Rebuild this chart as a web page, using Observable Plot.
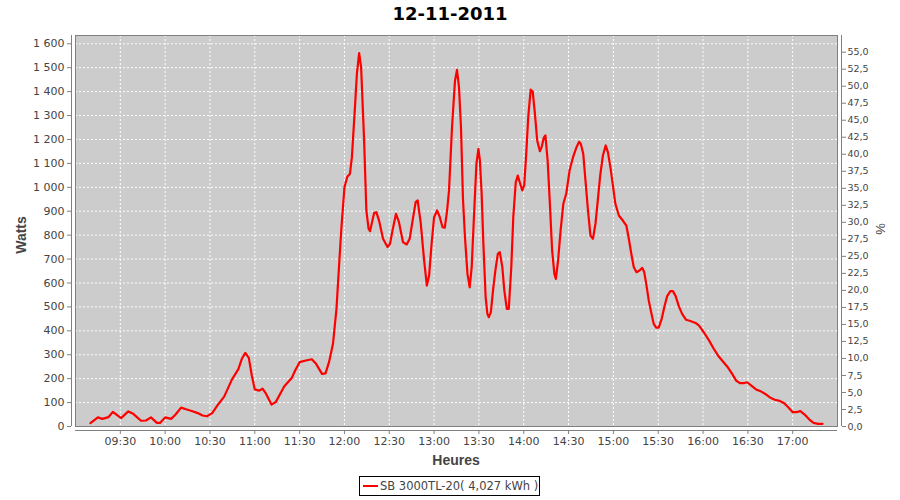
<!DOCTYPE html>
<html><head><meta charset="utf-8">
<script src="https://cdn.jsdelivr.net/npm/d3@7"></script>
<script src="https://cdn.jsdelivr.net/npm/@observablehq/plot@0.6"></script>
<style>
body{margin:0;background:#fff;}
#wrap{position:relative;width:900px;height:500px;overflow:hidden;font-family:"DejaVu Sans",sans-serif;background:#fff;}
#chart{position:absolute;left:0;top:0;}
#title{position:absolute;left:0;width:900px;top:3px;text-align:center;font:bold 18px "DejaVu Sans";color:#000;}
.alab{position:absolute;font:bold 14px "Liberation Sans";color:#444;white-space:nowrap;}
#legend{position:absolute;left:359px;top:476px;width:179px;height:18px;border:1px solid #000;font:11.5px "DejaVu Sans";color:#444;white-space:nowrap;}
#legend .sw{position:absolute;left:3px;top:8px;width:15px;height:2px;background:#ff0000;}
#legend .tx{position:absolute;left:20px;top:2px;}
</style></head>
<body>
<div id="wrap">
  <div id="chart"></div>
  <div id="title"></div>
  <div class="alab" id="ylab" style="left:21px;top:235px;transform:translate(-50%,-50%) rotate(-90deg);"></div>
  <div class="alab" id="y2lab" style="left:880px;top:229px;transform:translate(-50%,-50%) rotate(-90deg);font-weight:normal;font-size:13px;"></div>
  <div class="alab" id="xlab" style="left:456px;top:460px;transform:translate(-50%,-50%);"></div>
  <div id="legend"><div class="sw"></div><div class="tx"></div></div>
</div>
<script>
const chartTitle = "12-11-2011";
const yLabel = "Watts";
const y2Label = "%";
const xLabel = "Heures";
const seriesName = "SB 3000TL-20( 4,027 kWh )";

const times = ["09:10:00","09:15:00","09:18:00","09:22:00","09:25:00","09:30:30","09:35:20","09:38:40","09:43:50","09:47:10","09:50:30","09:54:30","09:56:30","10:00:00","10:04:00","10:06:50","10:10:40","10:14:00","10:18:20","10:21:50","10:25:00","10:28:00","10:31:30","10:35:00","10:39:30","10:44:40","10:49:00","10:51:20","10:53:40","10:56:00","10:58:00","11:00:00","11:03:00","11:05:10","11:07:30","11:11:10","11:14:00","11:19:40","11:24:50","11:27:00","11:30:00","11:34:10","11:38:10","11:41:00","11:45:00","11:47:20","11:49:40","11:52:20","11:54:40","11:56:20","11:58:00","12:00:00","12:02:00","12:03:40","12:05:00","12:07:10","12:08:20","12:09:50","12:11:10","12:13:10","12:14:40","12:16:10","12:17:10","12:19:50","12:21:20","12:23:10","12:25:50","12:28:50","12:30:30","12:32:10","12:34:30","12:36:30","12:39:10","12:41:40","12:43:40","12:46:00","12:47:40","12:49:00","12:51:00","12:53:20","12:55:10","12:56:40","12:58:20","13:00:00","13:02:00","13:03:50","13:05:40","13:07:10","13:08:40","13:10:00","13:12:00","13:14:00","13:15:20","13:16:40","13:18:00","13:19:20","13:20:40","13:22:20","13:23:50","13:25:10","13:26:40","13:28:20","13:29:40","13:30:40","13:31:50","13:33:00","13:34:30","13:35:40","13:36:40","13:38:00","13:39:40","13:41:00","13:42:40","13:44:00","13:45:40","13:47:00","13:48:40","13:50:00","13:51:40","13:53:00","13:54:40","13:56:00","13:57:20","13:59:00","14:00:20","14:01:40","14:03:00","14:04:40","14:06:00","14:07:30","14:09:00","14:10:50","14:12:00","14:13:30","14:14:30","14:16:00","14:17:30","14:19:00","14:20:30","14:21:30","14:23:00","14:24:40","14:26:30","14:28:30","14:30:40","14:33:00","14:35:10","14:37:00","14:38:10","14:39:50","14:41:20","14:43:00","14:44:40","14:46:20","14:48:00","14:49:40","14:51:10","14:53:00","14:54:50","14:56:20","14:58:00","14:59:40","15:01:20","15:03:40","15:06:20","15:08:40","15:10:20","15:12:00","15:13:40","15:15:30","15:17:30","15:19:20","15:20:40","15:22:10","15:23:40","15:25:30","15:27:00","15:28:40","15:30:20","15:32:20","15:34:20","15:36:00","15:38:10","15:39:50","15:41:40","15:43:50","15:46:00","15:48:40","15:51:30","15:55:00","15:57:20","16:00:30","16:04:00","16:07:10","16:10:00","16:13:10","16:16:10","16:19:30","16:22:10","16:24:40","16:27:20","16:29:30","16:32:20","16:35:30","16:39:00","16:42:10","16:45:10","16:48:00","16:51:20","16:54:20","16:57:20","17:00:00","17:02:30","17:05:10","17:08:00","17:11:10","17:14:00","17:17:00","17:20:00"];
const watts = [14,38,32,39,61,35,63,53,24,25,38,15,15,38,32,49,79,72,64,56,46,43,56,88,125,196,240,283,308,287,213,155,150,158,137,92,102,167,204,234,269,276,281,262,220,222,269,346,492,666,833,1000,1045,1056,1126,1349,1474,1561,1502,1196,903,826,817,892,896,861,785,750,764,819,889,854,771,761,785,875,938,945,854,694,589,631,764,875,903,875,833,831,900,987,1251,1446,1491,1419,1251,952,792,638,582,666,875,1098,1161,1112,973,764,541,471,457,478,582,652,722,729,666,569,492,492,666,875,1021,1049,1021,987,1008,1140,1293,1408,1400,1307,1196,1151,1168,1209,1217,1112,931,736,638,617,694,819,931,975,1070,1126,1165,1190,1182,1140,1028,903,798,785,847,952,1049,1133,1175,1147,1084,1008,931,882,861,840,785,722,666,645,652,663,645,589,527,471,429,413,413,450,506,545,566,566,545,502,471,446,441,433,422,394,360,325,297,273,251,220,192,181,181,185,171,155,146,134,120,112,107,97,78,60,60,64,50,29,15,11,11];

const xTickLabels = ["09:30","10:00","10:30","11:00","11:30","12:00","12:30","13:00","13:30","14:00","14:30","15:00","15:30","16:00","16:30","17:00"];
const yTicks = [0,100,200,300,400,500,600,700,800,900,1000,1100,1200,1300,1400,1500,1600];
const pctTicks = [0,2.5,5,7.5,10,12.5,15,17.5,20,22.5,25,27.5,30,32.5,35,37.5,40,42.5,45,47.5,50,52.5,55];
const xDomain = ["09:00","17:30"];
const yMax = 1634.6;     // watts at top of plot
const pctMax = 57.45;    // percent at top of plot

const day = s => { const [h,m,sec] = s.split(":").map(Number); return new Date(Date.UTC(2011,10,12,h,m,sec||0)); };
const data = times.map((t,i) => ({t: day(t), w: watts[i]}));
const xTicks = xTickLabels.map(day);
const k = yMax / pctMax;
const loc = d3.formatLocale({decimal:",", thousands:" ", grouping:[3], currency:["",""]});
const fW = loc.format(",d");
const fP = loc.format(".1f");
const fT = d3.utcFormat("%H:%M");
const x0 = day(xDomain[0]), x1 = day(xDomain[1]);
const axisGray = "#808080";
const textGray = "#444444";
const blank = () => "";

const plot = Plot.plot({
  width: 900, height: 470,
  marginTop: 35, marginBottom: 44, marginLeft: 75, marginRight: 63,
  style: {fontFamily: "DejaVu Sans", fontSize: "11px", color: textGray, background: "transparent"},
  x: {type: "utc", domain: [x0, x1]},
  y: {domain: [0, yMax]},
  marks: [
    Plot.frame({fill: "#cccccc", stroke: null}),
    Plot.gridX(xTicks, {stroke: "#ffffff", strokeOpacity: 1, strokeDasharray: "2,2", strokeWidth: 1}),
    Plot.gridY(yTicks, {stroke: "#ffffff", strokeOpacity: 1, strokeDasharray: "2,2", strokeWidth: 1}),
    Plot.line(data, {x: "t", y: "w", stroke: "#ff0000", strokeWidth: 2.2, strokeLinejoin: "round"}),
    Plot.frame({stroke: axisGray, strokeWidth: 1}),
    Plot.ruleX([x0], {dx: -4, stroke: axisGray}),
    Plot.ruleX([x1], {dx: 4, stroke: axisGray}),
    Plot.ruleY([0], {dy: 4, stroke: axisGray}),
    // left axis
    Plot.axisY(yTicks, {anchor: "left", tickSize: 4, dx: -4, tickFormat: blank, color: axisGray, label: null}),
    Plot.axisY(yTicks, {anchor: "left", tickSize: 0, tickPadding: 7, dx: -4, tickFormat: fW, color: textGray, fontSize: 11, label: null}),
    // right axis
    Plot.axisY(pctTicks.map(p => p * k), {anchor: "right", tickSize: 4, dx: 4, tickFormat: blank, color: axisGray, label: null}),
    Plot.axisY(pctTicks.map(p => p * k), {anchor: "right", tickSize: 0, tickPadding: 6, dx: 4, tickFormat: v => fP(v / k), color: textGray, fontSize: 9.5, label: null}),
    // bottom axis
    Plot.axisX(xTicks, {anchor: "bottom", tickSize: 4, dy: 4, tickFormat: blank, color: axisGray, label: null}),
    Plot.axisX(xTicks, {anchor: "bottom", tickSize: 0, tickPadding: 7, dy: 4, tickFormat: fT, color: textGray, fontSize: 11, label: null})
  ]
});
document.getElementById("chart").appendChild(plot);
document.getElementById("title").textContent = chartTitle;
document.getElementById("ylab").textContent = yLabel;
document.getElementById("y2lab").textContent = y2Label;
document.getElementById("xlab").textContent = xLabel;
document.querySelector("#legend .tx").textContent = seriesName;
</script>
</body></html>
